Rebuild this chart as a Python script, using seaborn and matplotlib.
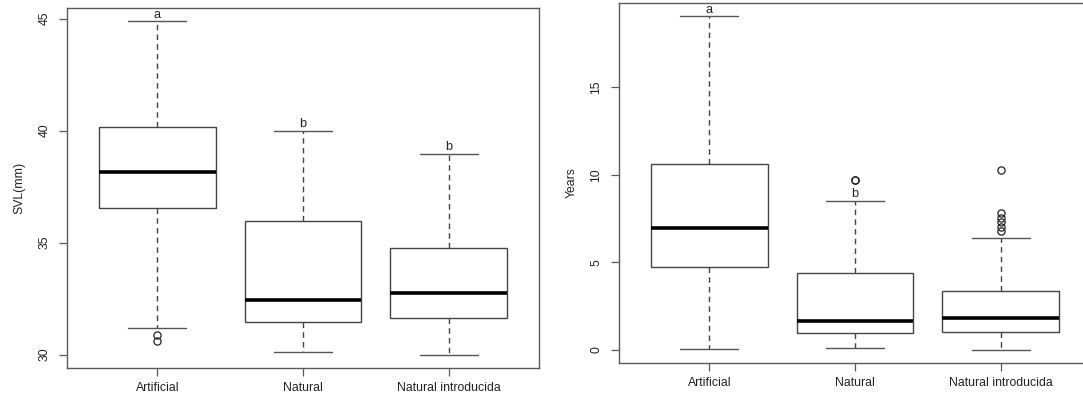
import matplotlib
matplotlib.use("Agg")
import matplotlib.pyplot as plt
import seaborn as sns
import numpy as np

sns.set_style("white")
plt.rcParams['font.family'] = ['Liberation Sans', 'DejaVu Sans']

categories = ["Artificial", "Natural", "Natural introducida"]

# SVL (mm) summaries
svl_whislo = [31.21, 30.13, 30.00]
svl_q1 = [36.54, 31.45, 31.63]
svl_med = [38.16, 32.42, 32.77]
svl_q3 = [40.16, 35.96, 34.78]
svl_whishi = [44.88, 39.98, 38.95]
svl_fliers = [[30.88, 30.60], [], []]
svl_letters = ["a", "b", "b"]

# Years summaries
yr_whislo = [0.06, 0.10, 0.02]
yr_q1 = [4.75, 0.95, 1.05]
yr_med = [6.98, 1.68, 1.83]
yr_q3 = [10.61, 4.41, 3.36]
yr_whishi = [19.05, 8.51, 6.42]
yr_fliers = [[], [9.71, 9.73], [10.30, 7.85, 7.55, 7.30, 7.05, 6.80]]
yr_letters = ["a", "b", ""]

fig = plt.figure(figsize=(10.83, 4.01), dpi=100)
ax1 = fig.add_axes([67 / 1083, 33 / 401, 472 / 1083, 360 / 401])
ax2 = fig.add_axes([619 / 1083, 38 / 401, 472 / 1083, 360 / 401])

edge = "#444444"
frame = "#5a5a5a"
fs = 8.8


def draw(ax, lo, q1, med, q3, hi, fl, letters, ylabel, yticks):
    stats = []
    for i, c in enumerate(categories):
        stats.append(dict(label=c, whislo=lo[i], q1=q1[i], med=med[i], q3=q3[i],
                          whishi=hi[i], fliers=np.array(fl[i], dtype=float)))
    pos = [1, 2, 3]
    ax.bxp(stats, positions=pos, widths=0.8, capwidths=0.4, patch_artist=True,
           showfliers=True,
           boxprops=dict(facecolor="white", edgecolor=edge, linewidth=1.0),
           medianprops=dict(color="black", linewidth=2.6, solid_capstyle="butt"),
           whiskerprops=dict(color=edge, linewidth=1.0, linestyle=(0, (4, 3))),
           capprops=dict(color="#555555", linewidth=1.0),
           flierprops=dict(marker="o", markersize=5.2, markerfacecolor="none",
                           markeredgecolor="#222222", markeredgewidth=0.9))
    allv = lo + hi + [v for f in fl for v in f]
    vmin, vmax = min(allv), max(allv)
    r = vmax - vmin
    ax.set_ylim(vmin - 0.04 * r, vmax + 0.04 * r)
    ax.set_xlim(0.38, 3.62)
    ax.set_xticks(pos)
    ax.set_xticklabels(categories)
    ax.set_yticks(yticks)
    ax.set_yticklabels([str(t) for t in yticks], rotation=90, va="center")
    ax.tick_params(axis="both", direction="out", length=6, width=0.9, color=frame,
                   labelsize=fs, labelcolor="#222222", pad=4,
                   left=True, bottom=True)
    ax.tick_params(axis="y", pad=6)
    for s in ax.spines.values():
        s.set_color(frame)
        s.set_linewidth(1.0)
    ax.set_ylabel(ylabel, fontsize=fs, color="#222222", labelpad=9)
    for i, t in enumerate(letters):
        if t:
            ax.annotate(t, (pos[i], hi[i]), xytext=(0, 0.5), textcoords="offset points",
                        ha="center", va="bottom", fontsize=9.2, color="#222222")


draw(ax1, svl_whislo, svl_q1, svl_med, svl_q3, svl_whishi, svl_fliers, svl_letters,
     "SVL(mm)", [30, 35, 40, 45])
draw(ax2, yr_whislo, yr_q1, yr_med, yr_q3, yr_whishi, yr_fliers, yr_letters,
     "Years", [0, 5, 10, 15])

fig.savefig("out.png", dpi=100)
